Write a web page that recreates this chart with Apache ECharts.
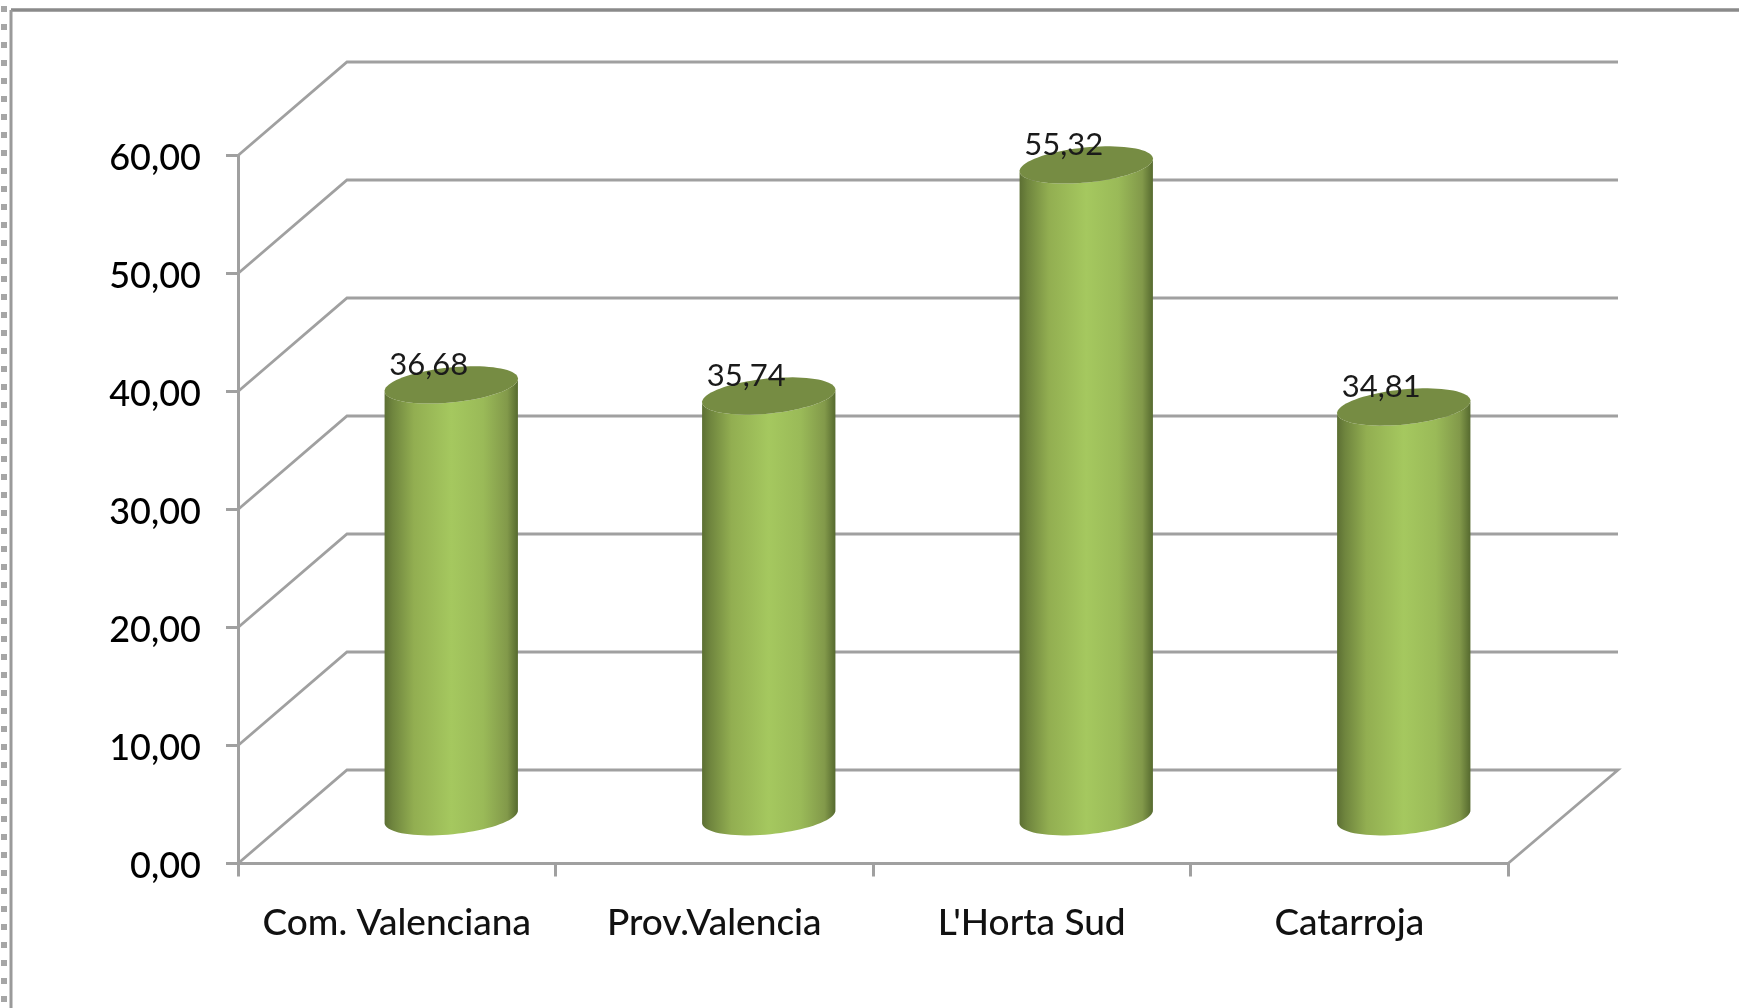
<!DOCTYPE html>
<html>
<head>
<meta charset="utf-8">
<style>html,body{margin:0;padding:0;background:#fff}#c{width:1739px;height:1008px;filter:blur(0.6px)}</style>
<script src="https://cdn.jsdelivr.net/npm/echarts@6/dist/echarts.min.js"></script>
</head>
<body>
<div id="c"></div>
<script>
const categories = ["Com. Valenciana", "Prov.Valencia", "L'Horta Sud", "Catarroja"];
const values = [36.68, 35.74, 55.32, 34.81];
const wallTicks = [0, 10, 20, 30, 40, 50, 60];

const depthX = 109, depthXRight = 110, depthY = 93.5;
const radiusA = 67, radiusB = 17.5, tilt = 0.1;
const lineColor = '#a0a0a0';
const fmt = v => v.toFixed(2).replace('.', ',');

function ellipsePoint(cx, cy, t) {
  const c = Math.cos(t), s = Math.sin(t);
  return [
    cx + radiusA * c * Math.cos(tilt) + radiusB * s * Math.sin(tilt),
    cy - radiusA * c * Math.sin(tilt) + radiusB * s * Math.cos(tilt)
  ];
}
function ellipseArc(cx, cy, from, to, n) {
  const out = [];
  for (let i = 0; i <= n; i++) out.push(ellipsePoint(cx, cy, from + (to - from) * i / n));
  return out;
}

const chart = echarts.init(document.getElementById('c'), null, {renderer: 'canvas'});
chart.setOption({
  animation: false,
  backgroundColor: '#fff',
  grid: {left: 238, right: 231, top: 155.5, bottom: 144.5, containLabel: false},
  xAxis: {
    type: 'category', data: categories, boundaryGap: true,
    axisLine: {show: true, lineStyle: {color: lineColor, width: 3}},
    axisTick: {show: true, interval: 0, length: 13, alignWithLabel: false, lineStyle: {color: lineColor, width: 3}},
    axisLabel: {interval: 0, hideOverlap: false, margin: 41, fontFamily: 'Lato', fontWeight: 500, fontSize: 37, color: '#111'},
    splitLine: {show: false}
  },
  yAxis: {
    type: 'value', min: 0, max: 60, interval: 10,
    axisLine: {show: true, lineStyle: {color: lineColor, width: 3}},
    axisTick: {show: true, length: 12, lineStyle: {color: lineColor, width: 3}},
    axisLabel: {margin: 37, verticalAlign: 'top', lineHeight: 5, fontFamily: 'Lato', fontWeight: 500, fontSize: 36, color: '#000', formatter: v => fmt(v)},
    splitLine: {show: false}
  },
  graphic: [
    {type: 'line', silent: true, shape: {x1: 11, y1: 10, x2: 1739, y2: 10}, style: {stroke: '#8a8a8a', lineWidth: 3.5}},
    {type: 'line', silent: true, shape: {x1: 11, y1: 10, x2: 11, y2: 1008}, style: {stroke: '#9a9a9a', lineWidth: 3}},
    {type: 'line', silent: true, shape: {x1: 4, y1: 6, x2: 4, y2: 1008}, style: {stroke: '#a6a6a6', lineWidth: 6, lineDash: [6, 12]}}
  ],
  series: [
    {
      type: 'custom', name: 'walls', coordinateSystem: 'cartesian2d', z: 1, silent: true,
      data: wallTicks.map(v => [0, v]),
      encode: {x: 0, y: 1},
      renderItem(params, api) {
        const y = api.coord([0, api.value(1)])[1];
        const g = params.coordSys;
        const pts = [[g.x, y], [g.x + depthX, y - depthY], [g.x + g.width + depthXRight, y - depthY]];
        if (api.value(1) === 0) pts.push([g.x + g.width, y]);
        return {
          type: 'polyline',
          shape: {points: pts},
          style: {stroke: lineColor, lineWidth: 2.8, fill: null}
        };
      }
    },
    {
      type: 'custom', name: 'cylinders', coordinateSystem: 'cartesian2d', z: 3, silent: true,
      data: values.map((v, i) => [i, v]),
      encode: {x: 0, y: 1},
      renderItem(params, api) {
        const base = api.coord([api.value(0), 0]);
        const top = api.coord([api.value(0), api.value(1)]);
        const cx = base[0] + depthX / 2;
        const by = base[1] - depthY / 2;
        const ty = top[1] - depthY / 2 + 1;
        const side = ellipseArc(cx, by, 0, Math.PI, 40).concat(ellipseArc(cx, ty, Math.PI, 0, 40));
        return {
          type: 'group',
          children: [
            {
              type: 'polygon', shape: {points: side},
              style: {
                fill: new echarts.graphic.LinearGradient(0, 0, 1, 0, [
                  {offset: 0, color: '#5c6f33'},
                  {offset: 0.06, color: '#6f853e'},
                  {offset: 0.22, color: '#92ae51'},
                  {offset: 0.5, color: '#a5c85f'},
                  {offset: 0.74, color: '#9aba58'},
                  {offset: 0.92, color: '#82994a'},
                  {offset: 1, color: '#566a2f'}
                ])
              }
            },
            {
              type: 'polygon', shape: {points: ellipseArc(cx, ty, 0, Math.PI * 2, 80)},
              style: {fill: '#768c43'}
            },
            {
              type: 'text', z2: 10,
              style: {
                text: fmt(api.value(1)), x: cx - 22.5, y: ty - 20,
                align: 'center', verticalAlign: 'middle',
                fontFamily: 'Lato', fontSize: 31, fill: '#1a1a1a'
              }
            }
          ]
        };
      }
    }
  ]
});
</script>
</body>
</html>
